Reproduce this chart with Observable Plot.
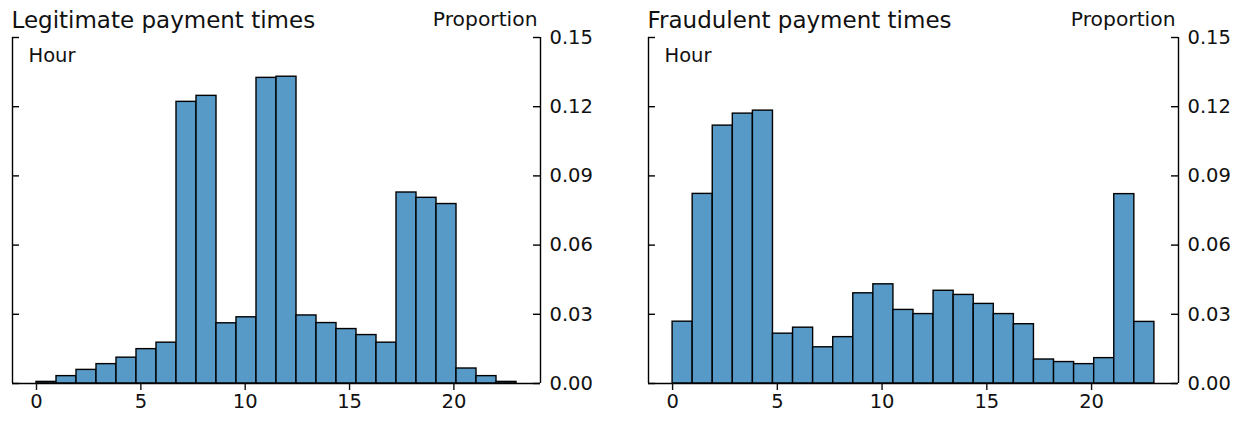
<!DOCTYPE html>
<html>
<head>
<meta charset="utf-8">
<script src="https://cdn.jsdelivr.net/npm/d3@7"></script>
<script src="https://cdn.jsdelivr.net/npm/@observablehq/plot@0.6"></script>
<style>
  html, body { margin: 0; padding: 0; background: #fff; }
  #wrap { position: relative; width: 1239px; height: 421px; overflow: hidden; }
  #wrap > div, #wrap > svg { position: absolute; top: 0; }
</style>
</head>
<body>
<div id="wrap"></div>
<script>
// ---- data ----
const hours = d3.range(0, 24);
const legitimate = [0.0007, 0.0032, 0.0059, 0.0084, 0.0112, 0.0149, 0.0177, 0.1221, 0.1247,
  0.0261, 0.0287, 0.1325, 0.1330, 0.0295, 0.0262, 0.0236, 0.0210, 0.0177, 0.0828, 0.0805,
  0.0778, 0.0065, 0.0032, 0.0007];
const fraudulent = [0.0268, 0.0822, 0.1118, 0.1170, 0.1183, 0.0216, 0.0242, 0.0157, 0.0201,
  0.0391, 0.0430, 0.0319, 0.0301, 0.0402, 0.0384, 0.0345, 0.0301, 0.0257, 0.0104, 0.0093,
  0.0084, 0.0110, 0.0821, 0.0267];
const titles = ["Legitimate payment times", "Fraudulent payment times"];
const yTicks = [0, 0.03, 0.06, 0.09, 0.12, 0.15];
const xTicks = [0, 5, 10, 15, 20];
const xLabel = "Hour";
const yLabel = "Proportion";

const binWidth = 23 / 24;
const xDomain = [-1.15, 24.15];
const fillColor = "#5799C7";
const ink = "#000";
const lw = 1.4;
const H = 421, mTop = 37, mBottom = 38;

function panel(values, title, {left, width, marginLeft, marginRight}) {
  const data = hours.map((h, i) => ({x1: h * binWidth, x2: (h + 1) * binWidth, y: values[i]}));
  const fw = width - marginLeft - marginRight;
  const chart = Plot.plot({
    width, height: H,
    marginLeft, marginRight, marginTop: mTop, marginBottom: mBottom,
    style: {fontFamily: "DejaVu Sans, sans-serif", fontSize: "19.5px", color: "#111", background: "transparent", overflow: "visible"},
    x: {type: "linear", domain: xDomain},
    y: {domain: [0, 0.15]},
    marks: [
      Plot.rectY(data, {x1: "x1", x2: "x2", y: "y", fill: fillColor, stroke: ink, strokeWidth: lw}),
      Plot.ruleX(xDomain, {stroke: ink, strokeWidth: lw}),
      Plot.ruleY([0], {stroke: ink, strokeWidth: lw}),
      Plot.tickY(yTicks, {y: d => d, insetRight: fw - 7, stroke: ink, strokeWidth: lw}),
      Plot.tickY(yTicks, {y: d => d, insetLeft: fw - 7, stroke: ink, strokeWidth: lw}),
      Plot.axisY({anchor: "right", ticks: yTicks, tickSize: 0, tickPadding: 9, tickFormat: d3.format(".2f"), label: null}),
      Plot.axisX({anchor: "bottom", ticks: xTicks, tickSize: 7, tickPadding: 4, strokeWidth: lw, tickFormat: d => String(d), label: null}),
      Plot.text([title], {text: d => d, frameAnchor: "top-left", textAnchor: "start", lineAnchor: "bottom", dx: -1, dy: -10, fontSize: 23, fill: "#111"}),
      Plot.text([yLabel], {text: d => d, frameAnchor: "top-right", textAnchor: "end", lineAnchor: "bottom", dx: -3, dy: -11.8, fontSize: 20.3, fill: "#111"}),
      Plot.text([xLabel], {text: d => d, frameAnchor: "top-left", textAnchor: "start", lineAnchor: "bottom", dx: 16, dy: 24, fontSize: 19.5, fill: "#111"})
    ]
  });
  chart.style.left = left + "px";
  document.getElementById("wrap").appendChild(chart);
}

panel(legitimate, titles[0], {left: 0, width: 620, marginLeft: 12, marginRight: 80});
panel(fraudulent, titles[1], {left: 620, width: 619, marginLeft: 28, marginRight: 61});
</script>
</body>
</html>
